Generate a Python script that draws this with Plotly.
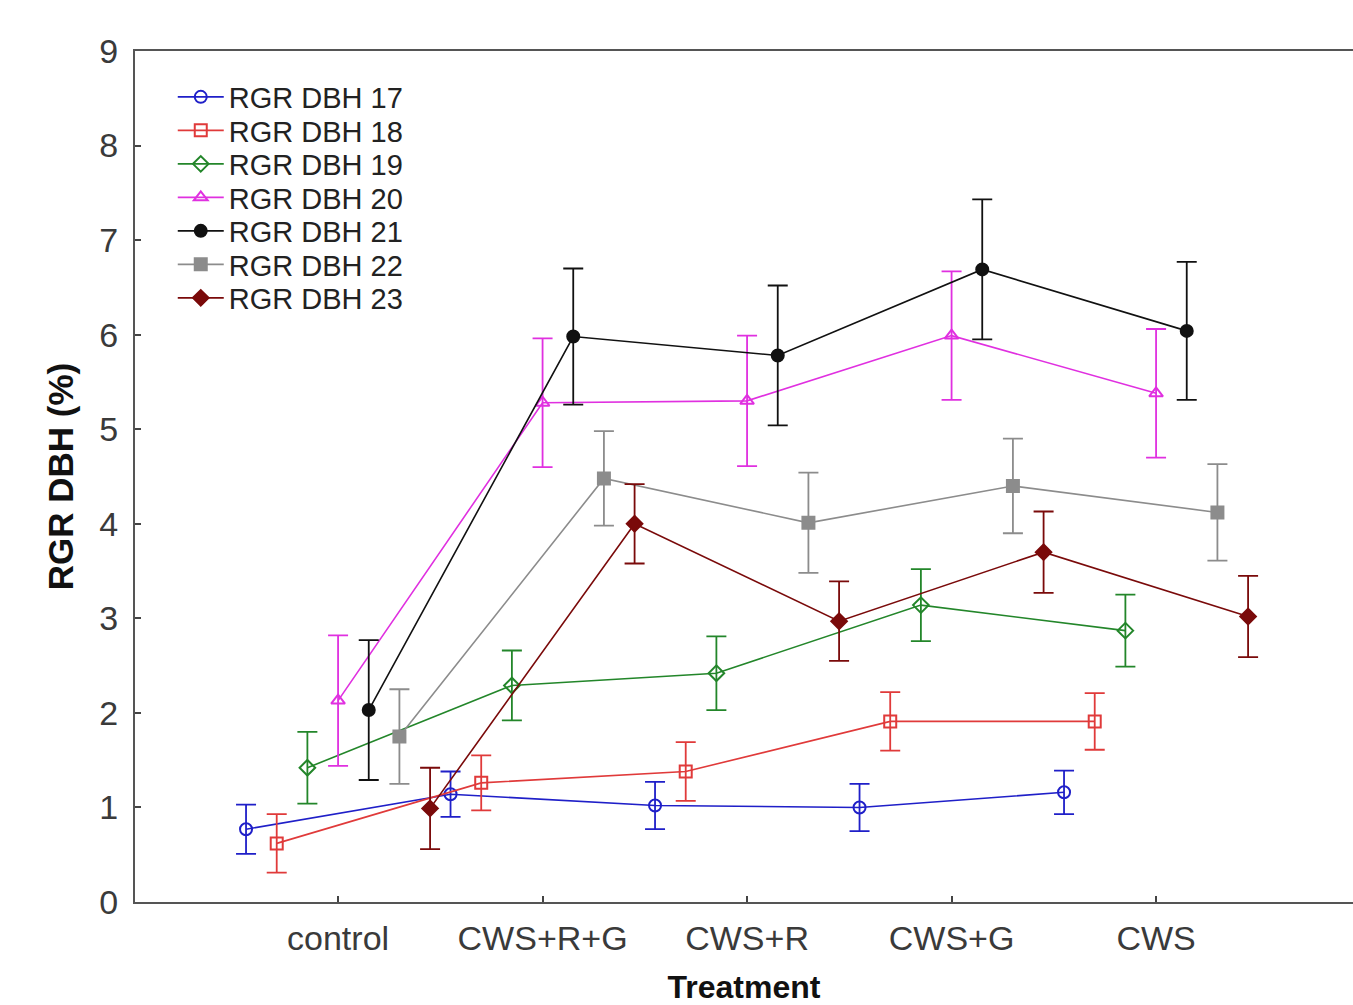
import plotly.graph_objects as go

treatments = ["control", "CWS+R+G", "CWS+R", "CWS+G", "CWS"]
series_names = ["RGR DBH 17", "RGR DBH 18", "RGR DBH 19", "RGR DBH 20",
                "RGR DBH 21", "RGR DBH 22", "RGR DBH 23"]

dbh17 = [0.77, 1.14, 1.02, 1.00, 1.16]
dbh17_err = [0.26, 0.24, 0.25, 0.25, 0.23]
dbh18 = [0.62, 1.26, 1.38, 1.91, 1.91]
dbh18_err = [0.31, 0.29, 0.31, 0.31, 0.30]
dbh19 = [1.42, 2.29, 2.42, 3.14, 2.87]
dbh19_err = [0.38, 0.37, 0.39, 0.38, 0.38]
dbh20 = [2.13, 5.28, 5.30, 5.99, 5.38]
dbh20_err = [0.69, 0.68, 0.69, 0.68, 0.68]
dbh21 = [2.03, 5.98, 5.78, 6.69, 6.04]
dbh21_err = [0.74, 0.72, 0.74, 0.74, 0.73]
dbh22 = [1.75, 4.48, 4.01, 4.40, 4.12]
dbh22_err = [0.50, 0.50, 0.53, 0.50, 0.51]
dbh23 = [0.99, 4.00, 2.97, 3.70, 3.02]
dbh23_err = [0.43, 0.42, 0.42, 0.43, 0.43]

values = [dbh17, dbh18, dbh19, dbh20, dbh21, dbh22, dbh23]
errors = [dbh17_err, dbh18_err, dbh19_err, dbh20_err, dbh21_err, dbh22_err, dbh23_err]

colors = ["#1f1fc8", "#e03a3a", "#23862a", "#e030e0", "#111111", "#8c8c8c", "#7a0a0a"]
symbols = ["circle-open", "square-open", "diamond-open", "triangle-up-open",
           "circle", "square", "diamond"]
dodge = 0.15

FONT = "Liberation Sans, Arial, sans-serif"

# plot area geometry (pixels) used for placing one-entry legends
PLOT_TOP = 51
PLOT_H = 851
LEGEND_FIRST_PX = 97
LEGEND_STEP_PX = 33.5

fig = go.Figure()
layout_legends = {}
for i, (name, vals, errs) in enumerate(zip(series_names, values, errors)):
    off = (i - 3) * dodge
    xs = [k + off for k in range(len(treatments))]
    lname = "legend" if i == 0 else f"legend{i + 1}"
    fig.add_trace(go.Scatter(
        x=xs, y=vals, name=name, mode="lines+markers",
        legend=lname,
        line=dict(color=colors[i], width=1.6),
        marker=dict(symbol=symbols[i], size=12, color=colors[i],
                    line=dict(color=colors[i], width=2)),
        error_y=dict(type="data", array=errs, visible=True,
                     color=colors[i], thickness=1.8, width=10),
    ))
    yc = LEGEND_FIRST_PX + i * LEGEND_STEP_PX
    layout_legends[lname] = dict(
        x=0.031, y=1 - (yc - PLOT_TOP) / PLOT_H,
        xanchor="left", yanchor="middle",
        bgcolor="rgba(255,255,255,0)", borderwidth=0,
        font=dict(family=FONT, size=29, color="#222222"),
        itemwidth=46,
    )

axis_font = dict(family=FONT, size=34, color="#3a3a3a")

fig.update_layout(
    width=1353, height=1005,
    margin=dict(l=135, r=0, t=51, b=103, autoexpand=False),
    paper_bgcolor="white", plot_bgcolor="white",
    showlegend=True,
    xaxis=dict(
        range=[-0.993, 4.963], automargin=False,
        tickmode="array", tickvals=list(range(len(treatments))), ticktext=treatments,
        ticks="inside", ticklen=6, tickcolor="#444444", tickwidth=1.5,
        showline=True, linecolor="#555555", linewidth=2, mirror=True,
        showgrid=False, zeroline=False,
        tickfont=axis_font, ticklabelstandoff=5,
        title=dict(text="<b>Treatment</b>", standoff=30,
                   font=dict(family=FONT, size=32, color="#111111")),
    ),
    yaxis=dict(
        range=[0, 9], dtick=1, automargin=False,
        ticks="inside", ticklen=6, tickcolor="#444444", tickwidth=1.5,
        showline=True, linecolor="#555555", linewidth=2, mirror=False,
        showgrid=False, zeroline=False,
        tickfont=axis_font, ticklabelstandoff=8,
        title=dict(text="<b>RGR DBH (%)</b>", standoff=15,
                   font=dict(family=FONT, size=35, color="#111111")),
    ),
    **layout_legends,
)

fig.write_html("out.html")
